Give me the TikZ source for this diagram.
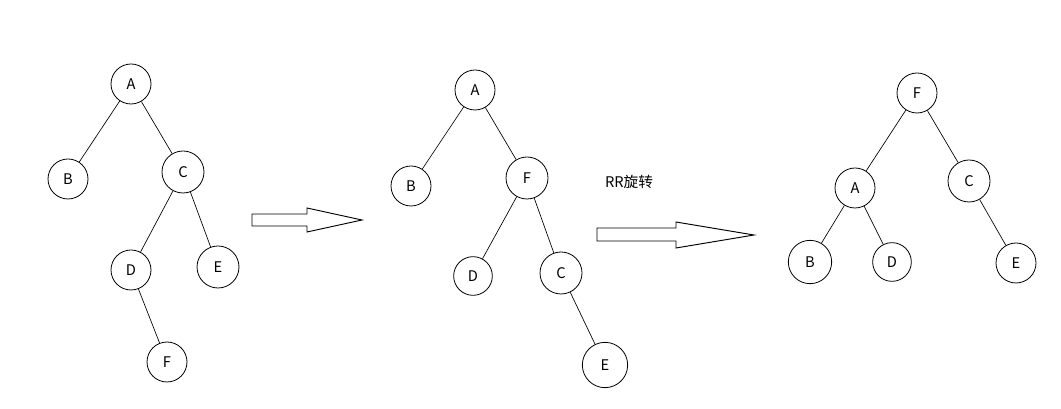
\documentclass[tikz,border=0pt]{standalone}
\usepackage{fontspec}
\newfontfamily\cjk{Noto Sans CJK SC}

\begin{document}
\begin{tikzpicture}[
  x=0.75pt, y=-0.75pt,
  vertex/.style={draw=black, circle, minimum size=30pt, inner sep=0pt, line width=.6pt, font=\cjk\fontsize{11}{13}\selectfont},
  link/.style={draw=black, line width=.5pt},
  bigarrow/.style={draw=black, line width=.7pt, fill=white},
  caption/.style={font=\cjk\fontsize{11}{13}\selectfont, inner sep=0pt}
]
\useasboundingbox (0,0) rectangle (1061,409);
% before insertion of F
\node[vertex] (a1) at (131,84) {A};
\node[vertex] (b1) at (68,179) {B};
\node[vertex, minimum size=31.5pt] (c1) at (183,172) {C};
\node[vertex] (d1) at (131,270) {D};
\node[vertex, minimum size=31.5pt] (e1) at (218,267) {E};
\node[vertex] (f1) at (167,362) {F};
\draw[link] (a1) -- (b1);
\draw[link] (a1) -- (c1);
\draw[link] (c1) -- (d1);
\draw[link] (c1) -- (e1);
\draw[link] (d1) -- (f1);
\draw[bigarrow] (252,214) -- (307,214) -- (307,208) -- (362,220) -- (307,232) -- (307,226) -- (252,226) -- cycle;
% after first rotation
\node[vertex] (a2) at (475,90) {A};
\node[vertex] (b2) at (411,186) {B};
\node[vertex, minimum size=31.5pt] (f2) at (527,178) {F};
\node[vertex, minimum size=29pt] (d2) at (473,276) {D};
\node[vertex, minimum size=31.5pt] (c2) at (561,273) {C};
\node[vertex, minimum size=34pt] (e2) at (605,365) {E};
\draw[link] (a2) -- (b2);
\draw[link] (a2) -- (f2);
\draw[link] (f2) -- (d2);
\draw[link] (f2) -- (c2);
\draw[link] (c2) -- (e2);
\node[caption] (rr) at (629,182) {RR旋转};
\draw[bigarrow] (597,228) -- (676,228) -- (676,222) -- (754,235) -- (676,248) -- (676,241) -- (597,241) -- cycle;
% balanced result
\node[vertex] (f3) at (917,93) {F};
\node[vertex] (a3) at (855,188) {A};
\node[vertex, minimum size=31.5pt] (c3) at (969,181) {C};
\node[vertex, minimum size=32.5pt] (b3) at (810,262) {B};
\node[vertex, minimum size=29pt] (d3) at (892,262) {D};
\node[vertex] (e3) at (1016,263) {E};
\draw[link] (f3) -- (a3);
\draw[link] (f3) -- (c3);
\draw[link] (a3) -- (b3);
\draw[link] (a3) -- (d3);
\draw[link] (c3) -- (e3);
\end{tikzpicture}
\end{document}
